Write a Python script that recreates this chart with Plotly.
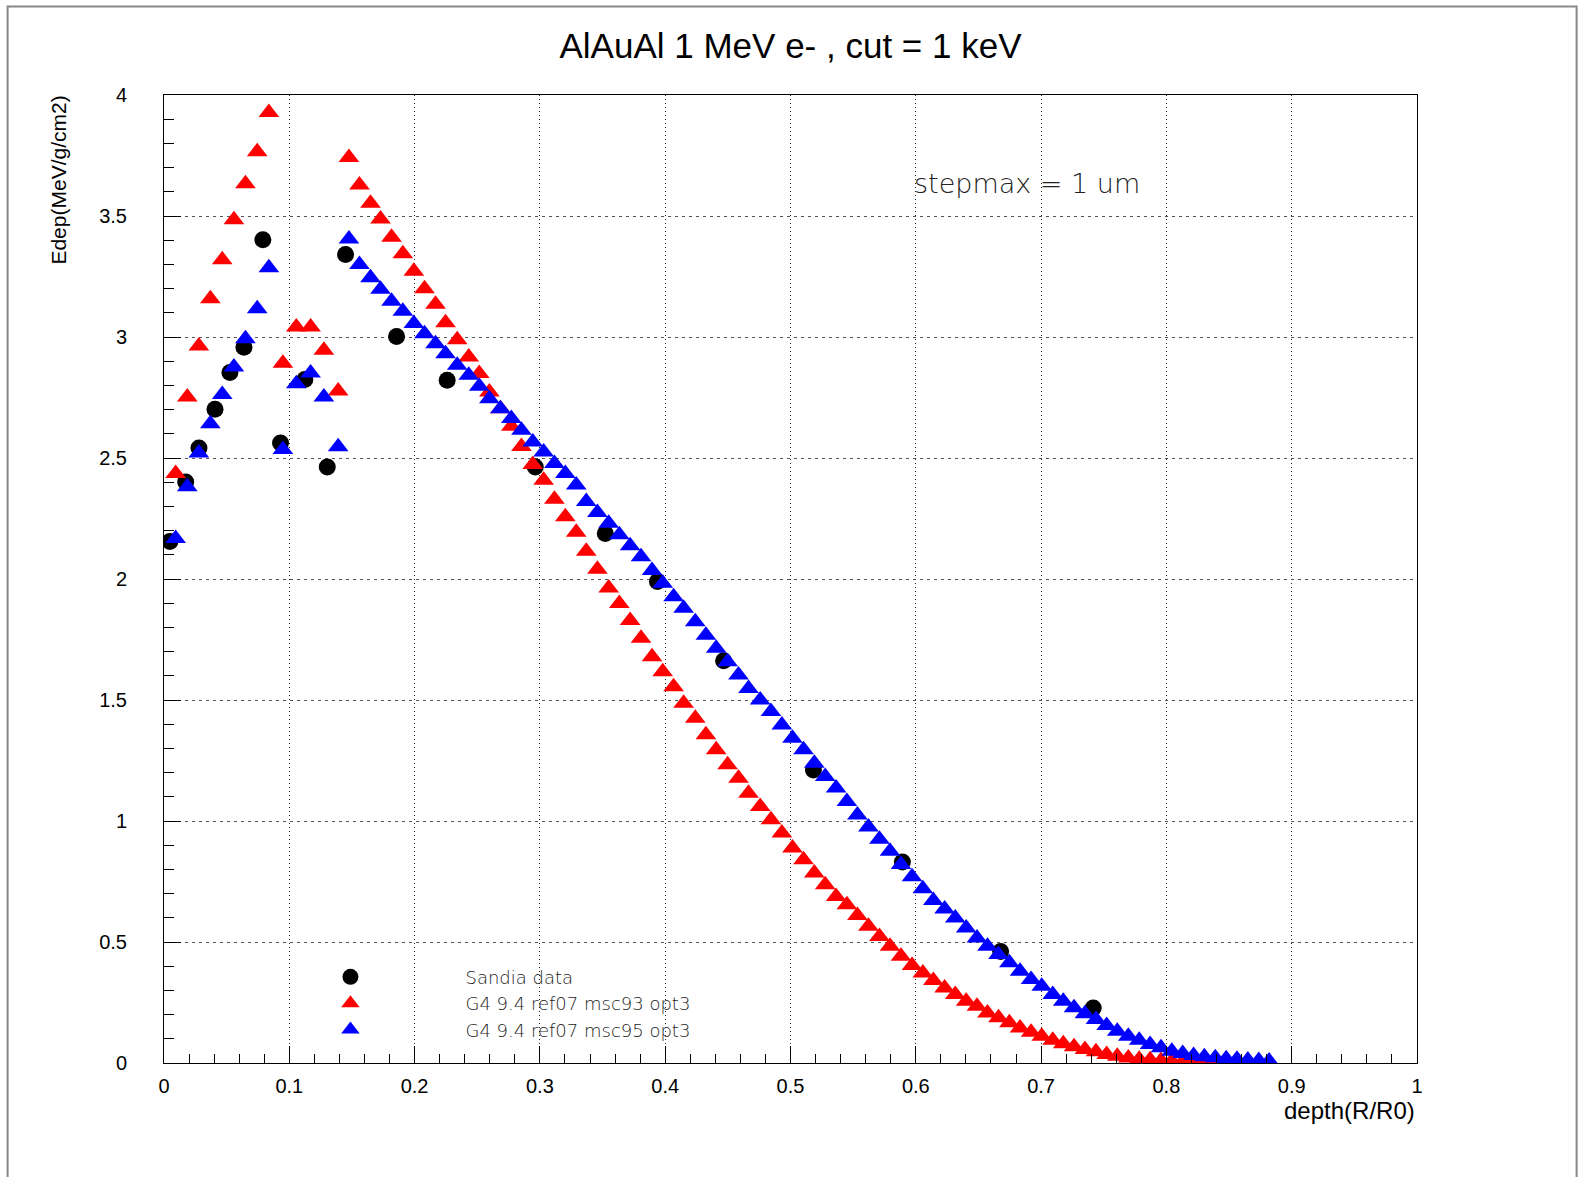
import plotly.graph_objects as go

# ---------------- data ----------------
sandia_x = [0.0047, 0.0173, 0.0279, 0.0407, 0.0526, 0.0638, 0.0789, 0.0930, 0.1124,
            0.1303, 0.1449, 0.1856, 0.2260, 0.2963, 0.3522, 0.3938, 0.4466, 0.5183,
            0.5893, 0.6677, 0.7416]
sandia_y = [2.155, 2.401, 2.541, 2.701, 2.853, 2.958, 3.402, 2.562, 2.824,
            2.463, 3.341, 3.002, 2.821, 2.463, 2.188, 1.990, 1.662, 1.211,
            0.831, 0.461, 0.227]

g4_x = [0.0093, 0.0186, 0.0278, 0.0370, 0.0465, 0.0558, 0.0650, 0.0744, 0.0837,
        0.0949, 0.1056, 0.1170, 0.1276, 0.1390,
        0.1476, 0.1560, 0.1648, 0.1728, 0.1816, 0.1906, 0.1994, 0.2079, 0.2167, 0.2247,
        0.2340, 0.2432, 0.2516, 0.2597, 0.2685, 0.2772, 0.2853, 0.2943, 0.3030, 0.3116,
        0.3203, 0.3290, 0.3370, 0.3459, 0.3549, 0.3634, 0.3720, 0.3807, 0.3895, 0.3980,
        0.4067, 0.4147, 0.4240, 0.4325, 0.4407, 0.4498, 0.4585, 0.4665, 0.4758, 0.4844,
        0.4931, 0.5016, 0.5104, 0.5190, 0.5277, 0.5364, 0.5450, 0.5534, 0.5622, 0.5710,
        0.5794, 0.5882, 0.5970, 0.6056, 0.6140, 0.6230, 0.6315, 0.6402, 0.6488, 0.6572,
        0.6660, 0.6747, 0.6832, 0.6920, 0.7005, 0.7093, 0.7177, 0.7263, 0.7350, 0.7438,
        0.7523, 0.7608, 0.7696, 0.7783, 0.7870, 0.7957, 0.8043, 0.8130, 0.8217, 0.8303,
        0.8390, 0.8477, 0.8563, 0.8650, 0.8737, 0.8820]

msc93_y = [2.436, 2.752, 2.963, 3.158, 3.319, 3.484, 3.633, 3.766, 3.928,
           2.892, 3.041, 3.041, 2.945, 2.777,
           3.742, 3.628, 3.553, 3.488, 3.412, 3.344, 3.272, 3.199, 3.135, 3.059,
           2.989, 2.917, 2.849, 2.773, 2.704, 2.631, 2.548, 2.473, 2.408, 2.330,
           2.257, 2.193, 2.115, 2.040, 1.963, 1.899, 1.828, 1.755, 1.679, 1.617,
           1.555, 1.487, 1.425, 1.356, 1.294, 1.232, 1.177, 1.115, 1.060, 1.005,
           0.950, 0.888, 0.840, 0.785, 0.737, 0.688, 0.654, 0.610, 0.565, 0.523,
           0.482, 0.441, 0.403, 0.372, 0.341, 0.310, 0.283, 0.255, 0.234, 0.207,
           0.187, 0.166, 0.145, 0.127, 0.111, 0.094, 0.080, 0.067, 0.056, 0.046,
           0.035, 0.028, 0.021, 0.016, 0.013, 0.010, 0.008, 0.006, 0.005, 0.004,
           0.003, 0.002, 0.001, 0.0005, 0.0002, 0.0]

msc95_y = [2.167, 2.381, 2.521, 2.642, 2.762, 2.876, 2.993, 3.117, 3.286,
           2.535, 2.807, 2.851, 2.752, 2.546,
           3.405, 3.300, 3.245, 3.197, 3.148, 3.106, 3.056, 3.013, 2.972, 2.931,
           2.883, 2.842, 2.796, 2.745, 2.704, 2.663, 2.615, 2.566, 2.525, 2.477,
           2.436, 2.388, 2.320, 2.275, 2.230, 2.183, 2.137, 2.092, 2.035, 1.982,
           1.927, 1.879, 1.823, 1.768, 1.714, 1.658, 1.603, 1.548, 1.500, 1.452,
           1.397, 1.342, 1.294, 1.239, 1.184, 1.136, 1.081, 1.025, 0.975, 0.925,
           0.875, 0.820, 0.770, 0.720, 0.672, 0.636, 0.599, 0.558, 0.517, 0.482,
           0.448, 0.414, 0.379, 0.345, 0.317, 0.283, 0.255, 0.228, 0.204, 0.180,
           0.155, 0.131, 0.111, 0.094, 0.076, 0.063, 0.049, 0.039, 0.031, 0.026,
           0.022, 0.018, 0.015, 0.012, 0.010, 0.008]

series_names = ["Sandia data", "G4 9.4 ref07 msc93 opt3", "G4 9.4 ref07 msc95 opt3"]
title_text = "AlAuAl 1 MeV e- , cut = 1 keV"
x_title = "depth(R/R0)"
y_title = "Edep(MeV/g/cm2)"
note_text = "stepmax = 1 um"

# ---------------- figure ----------------
W, H = 1579, 1177
L, R, T, B = 163.5, 161.7, 94.5, 113.5
pw, ph = W - L - R, H - T - B

def px2paper_x(px):
    return (px - L) / pw

def px2paper_y(py):
    return (H - B - py) / ph

fig = go.Figure()
fig.add_trace(go.Scatter(x=sandia_x, y=sandia_y, mode="markers", name=series_names[0],
                         marker=dict(symbol="circle", size=17, color="black")))
fig.add_trace(go.Scatter(x=g4_x, y=msc93_y, mode="markers", name=series_names[1],
                         marker=dict(symbol="triangle-up", size=18, color="#ff0000")))
fig.add_trace(go.Scatter(x=g4_x, y=msc95_y, mode="markers", name=series_names[2],
                         marker=dict(symbol="triangle-up", size=18, color="#0000ff")))

sans = "Liberation Sans, Arial, sans-serif"
tick_font = dict(family=sans, size=20, color="black")
thin_font_family = "DejaVu Sans, sans-serif"

fig.update_layout(
    width=W, height=H,
    margin=dict(l=L, r=R, t=T, b=B, pad=0),
    paper_bgcolor="white", plot_bgcolor="white",
    title=dict(text=title_text, x=0.5, xref="paper", y=1 - 46 / H, yref="container",
               xanchor="center", yanchor="middle",
               font=dict(family=sans, size=35, color="black")),
    xaxis=dict(range=[0, 1], dtick=0.1, tick0=0, showline=True, linecolor="black", linewidth=1,
               mirror=True, ticks="inside", ticklen=17, tickcolor="black", tickwidth=1,
               showgrid=True, gridcolor="#222222", gridwidth=1, griddash="1px,3px",
               zeroline=False, tickfont=tick_font, ticklabelstandoff=5,
               minor=dict(dtick=0.02, ticks="inside", ticklen=9, tickcolor="black",
                          tickwidth=1, showgrid=False)),
    yaxis=dict(range=[0, 4], dtick=0.5, tick0=0, showline=True, linecolor="black", linewidth=1,
               mirror=True, ticks="inside", ticklen=17, tickcolor="black", tickwidth=1,
               showgrid=True, gridcolor="#555555", gridwidth=1, griddash="3px,4px",
               zeroline=False, tickfont=tick_font, ticklabelstandoff=32,
               minor=dict(dtick=0.1, ticks="inside", ticklen=10, tickcolor="black",
                          tickwidth=1, showgrid=False)),
    showlegend=True,
    legend=dict(x=px2paper_x(235), y=px2paper_y(959), xanchor="left", yanchor="top",
                bgcolor="rgba(0,0,0,0)", borderwidth=0, itemwidth=220, tracegroupgap=0,
                font=dict(family=thin_font_family, size=18, color="#222222", weight=200)),
)

fig.add_annotation(text=note_text, x=px2paper_x(912), y=px2paper_y(183), xref="paper", yref="paper",
                   xanchor="left", yanchor="middle", showarrow=False,
                   font=dict(family=thin_font_family, size=27, color="#222222", weight=200))
fig.add_annotation(text=x_title, x=1.0, y=px2paper_y(1111), xref="paper", yref="paper",
                   xanchor="right", yanchor="middle", showarrow=False,
                   font=dict(family=sans, size=24, color="black"))
fig.add_annotation(text=y_title, x=px2paper_x(57), y=px2paper_y(93), xref="paper", yref="paper",
                   xanchor="center", yanchor="top", showarrow=False, textangle=-90,
                   font=dict(family=sans, size=21, color="black"))

# outer canvas frame (grey)
fig.add_shape(type="rect", xref="paper", yref="paper",
              x0=px2paper_x(7), x1=px2paper_x(1577), y0=px2paper_y(1200), y1=px2paper_y(6),
              line=dict(color="#888888", width=2), fillcolor="rgba(0,0,0,0)", layer="below")

fig.write_html("out.html", config={"displayModeBar": False},
               post_script="document.body.style.margin='0';")
